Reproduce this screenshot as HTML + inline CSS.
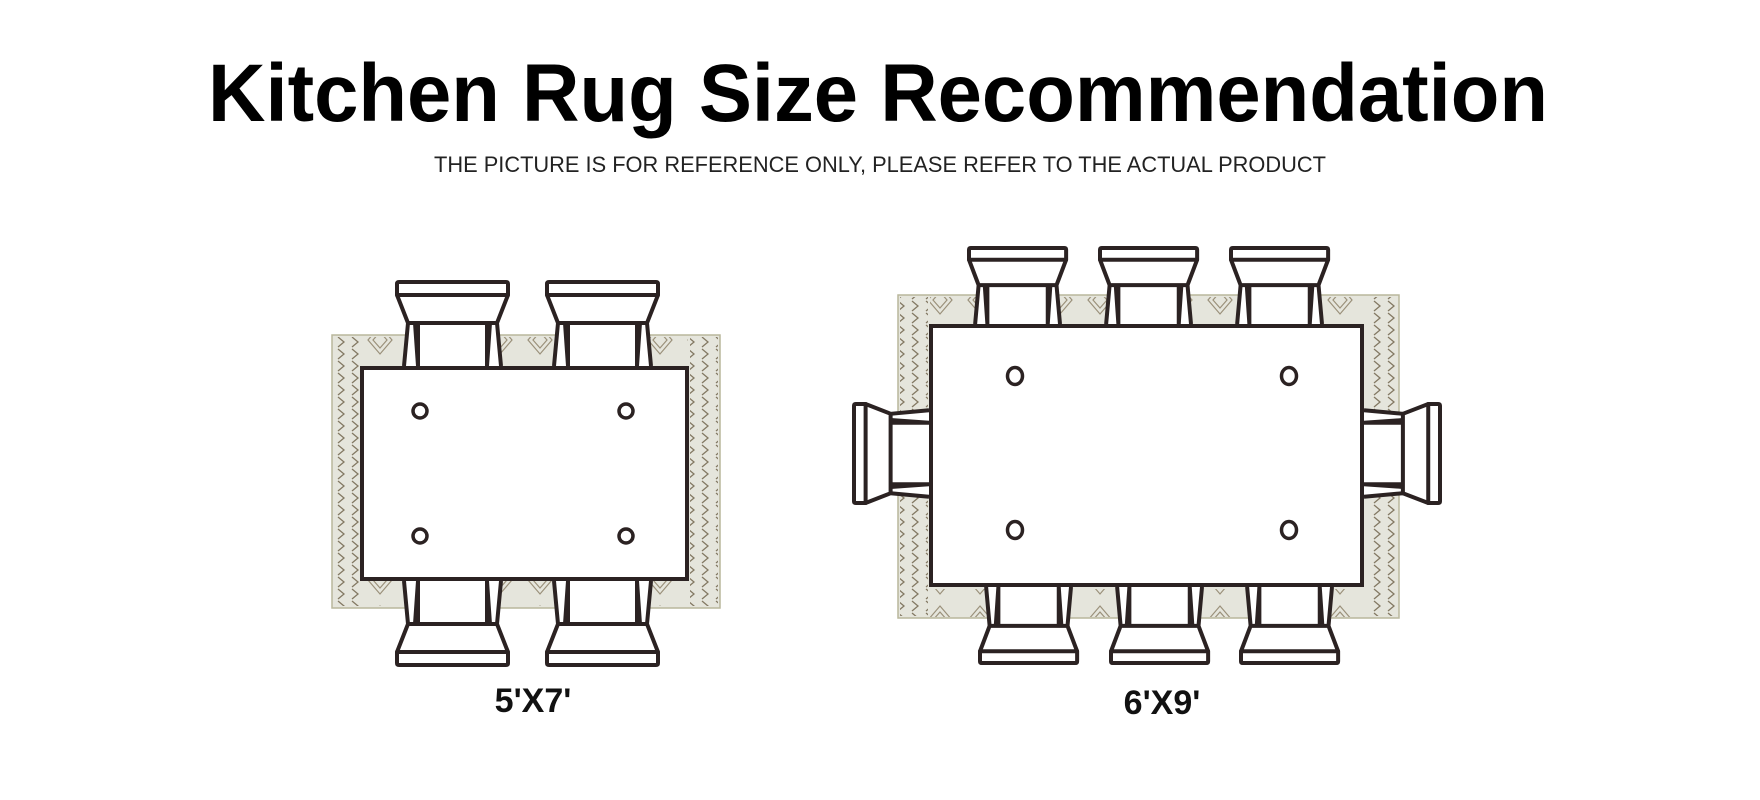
<!DOCTYPE html>
<html><head><meta charset="utf-8"><style>
html,body{margin:0;padding:0;background:#fff;}
svg{display:block;}
</style></head><body>
<svg width="1760" height="800" viewBox="0 0 1760 800" xmlns="http://www.w3.org/2000/svg">
<defs>
<pattern id="zz" width="14" height="12" patternUnits="userSpaceOnUse">
<path d="M2,1 L8,6 L2,11" fill="none" stroke="#6b5e45" stroke-width="1.3"/>
</pattern>
<pattern id="dm" width="40" height="40" patternUnits="userSpaceOnUse">
<path d="M20,6 L32,20 L20,34 L8,20 Z M20,12 L27,20 L20,28 L13,20 Z" fill="none" stroke="#7a6c50" stroke-width="1.2"/>
</pattern>
<g id="chair">
<path d="M11,41 L0,13 L0,2 Q0,0 2,0 L109,0 Q111,0 111,2 L111,13 L100,41 L104,84 L7,84 Z" fill="#fff" stroke="none"/>
<g fill="none" stroke="#2b2222" stroke-width="4" stroke-linejoin="round" vector-effect="non-scaling-stroke">
<path d="M2,0 L109,0 Q111,0 111,2 L111,13 L0,13 L0,2 Q0,0 2,0 Z" vector-effect="non-scaling-stroke"/>
<path d="M0,13 L11,41 L100,41 L111,13" vector-effect="non-scaling-stroke"/>
<path d="M11,41 L7,84 M18,41 L21,84 M100,41 L104,84 M93,41 L90,84 M21,41 L21,84 M90,41 L90,84" vector-effect="non-scaling-stroke"/>
</g>
</g>
</defs>

<text x="878" y="121" text-anchor="middle" font-family="Liberation Sans, sans-serif" font-weight="bold" font-size="82" textLength="1340" lengthAdjust="spacingAndGlyphs" fill="#000">Kitchen Rug Size Recommendation</text>
<text x="880" y="172" text-anchor="middle" font-family="Liberation Sans, sans-serif" font-size="22" textLength="892" lengthAdjust="spacingAndGlyphs" fill="#222">THE PICTURE IS FOR REFERENCE ONLY, PLEASE REFER TO THE ACTUAL PRODUCT</text>

<!-- LEFT 5x7 -->
<rect x="332" y="335" width="388" height="273" fill="#e5e5dc" stroke="#b9b79c" stroke-width="1.5"/>
<rect x="334" y="337" width="28" height="269" fill="url(#zz)" opacity="0.8"/>
<rect x="690" y="337" width="28" height="269" fill="url(#zz)" opacity="0.8"/>
<rect x="362" y="337" width="326" height="28" fill="url(#dm)" opacity="0.7"/>
<rect x="362" y="580" width="326" height="26" fill="url(#dm)" opacity="0.7"/>

<use href="#chair" transform="translate(397,282)"/>
<use href="#chair" transform="translate(547,282)"/>
<use href="#chair" transform="matrix(1,0,0,-1,397,665)"/>
<use href="#chair" transform="matrix(1,0,0,-1,547,665)"/>

<rect x="362" y="368" width="325" height="211" fill="#fff" stroke="#2b2222" stroke-width="4"/>
<g fill="none" stroke="#2b2222" stroke-width="3.5">
<circle cx="420" cy="411" r="7"/><circle cx="626" cy="411" r="7"/>
<circle cx="420" cy="536" r="7"/><circle cx="626" cy="536" r="7"/>
</g>
<text x="533" y="712" text-anchor="middle" font-family="Liberation Sans, sans-serif" font-weight="bold" font-size="34" fill="#111">5'X7'</text>

<!-- RIGHT 6x9 -->
<rect x="898" y="295" width="501" height="323" fill="#e5e5dc" stroke="#b9b79c" stroke-width="1.5"/>
<rect x="900" y="297" width="28" height="319" fill="url(#zz)" opacity="0.8"/>
<rect x="1368" y="297" width="29" height="319" fill="url(#zz)" opacity="0.8"/>
<rect x="930" y="297" width="434" height="26" fill="url(#dm)" opacity="0.7"/>
<rect x="930" y="589" width="434" height="28" fill="url(#dm)" opacity="0.7"/>

<use href="#chair" transform="matrix(0.875,0,0,0.905,969,248)"/>
<use href="#chair" transform="matrix(0.875,0,0,0.905,1100,248)"/>
<use href="#chair" transform="matrix(0.875,0,0,0.905,1231,248)"/>
<use href="#chair" transform="matrix(0.875,0,0,-0.905,980,663)"/>
<use href="#chair" transform="matrix(0.875,0,0,-0.905,1111,663)"/>
<use href="#chair" transform="matrix(0.875,0,0,-0.905,1241,663)"/>
<use href="#chair" transform="matrix(0,0.892,0.893,0,854,404)"/>
<use href="#chair" transform="matrix(0,0.892,-0.905,0,1440,404)"/>

<rect x="931" y="326" width="431" height="259" fill="#fff" stroke="#2b2222" stroke-width="4"/>
<g fill="none" stroke="#2b2222" stroke-width="3.5">
<ellipse cx="1015" cy="376" rx="7.5" ry="8.5"/><ellipse cx="1289" cy="376" rx="7.5" ry="8.5"/>
<ellipse cx="1015" cy="530" rx="7.5" ry="8.5"/><ellipse cx="1289" cy="530" rx="7.5" ry="8.5"/>
</g>
<text x="1162" y="714" text-anchor="middle" font-family="Liberation Sans, sans-serif" font-weight="bold" font-size="34" fill="#111">6'X9'</text>
</svg>
</body></html>
